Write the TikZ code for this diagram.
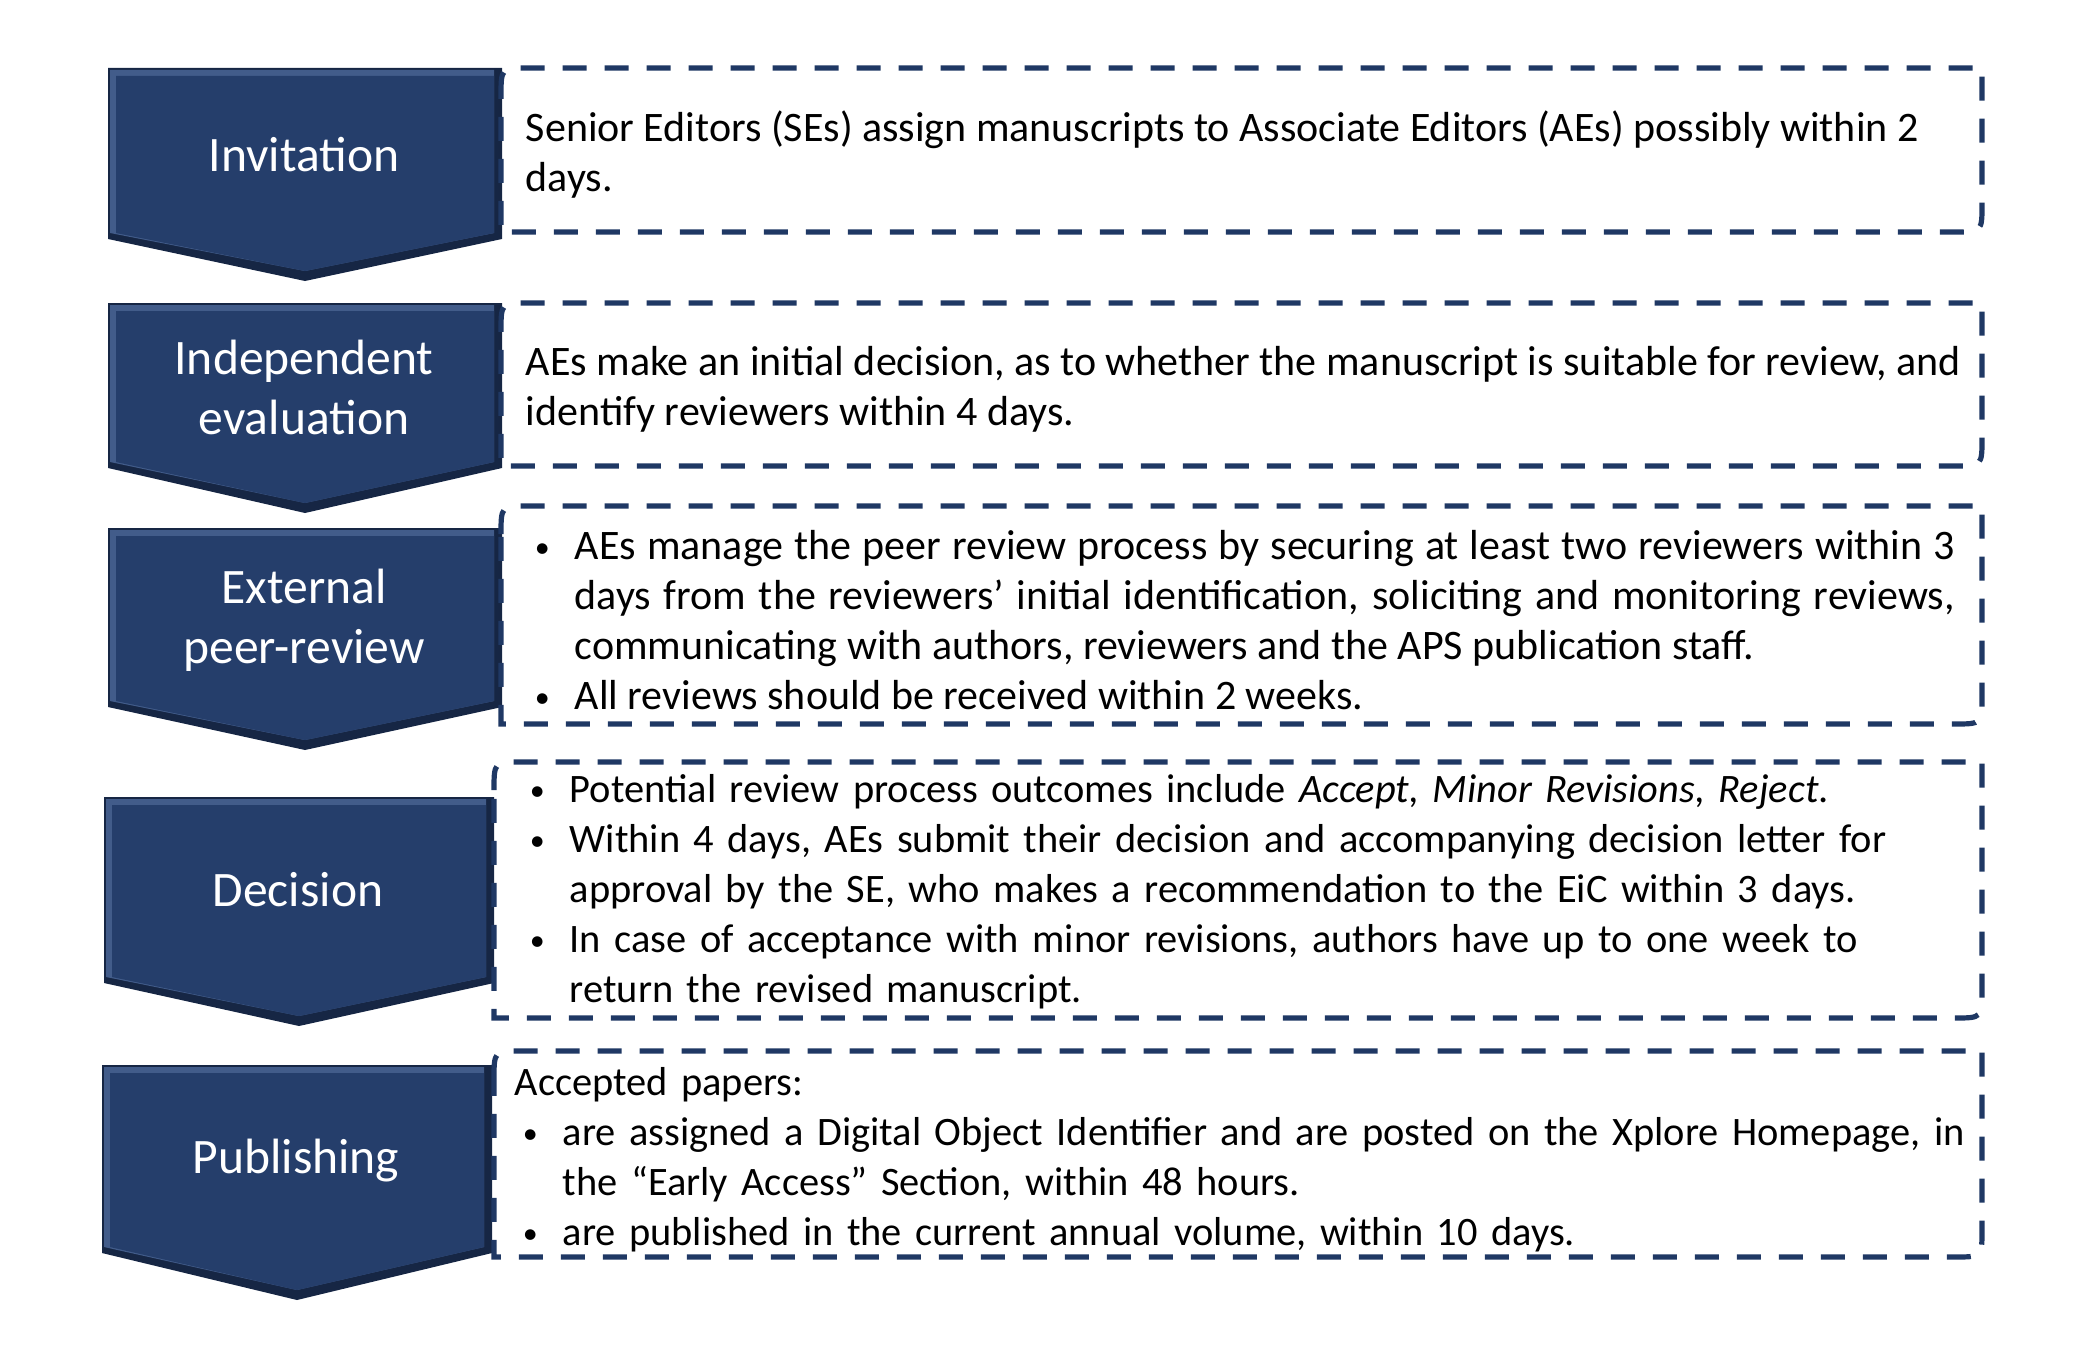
\documentclass[tikz,border=0pt]{standalone}
\usepackage{fontspec}
\setmainfont{Carlito}
\usetikzlibrary{positioning}
\definecolor{stepnavy}{RGB}{37,62,107}
\definecolor{stepdark}{RGB}{22,38,68}
\definecolor{steplight}{RGB}{66,92,138}
\definecolor{dashnavy}{RGB}{31,56,100}
\newcommand{\pitem}[1][0pt]{\par\noindent\hangindent=\dimexpr#1+10pt\relax\hangafter=1\hspace*{#1}%
  \makebox[10pt][l]{\raisebox{0.12ex}{\fontsize{7.5}{7.5}\selectfont •}}\ignorespaces}

\begin{document}
\begin{tikzpicture}[x=0.25pt,y=-0.25pt,
  steplabel/.style={text=white,font=\fontsize{12.4}{15}\selectfont,align=center,inner sep=0pt},
  bodytext/.style={font=\fontsize{10.5}{12.5}\selectfont,anchor=west,inner sep=0pt},
  smalltext/.style={bodytext,font=\fontsize{10.1}{12.5}\selectfont},
  dashbox/.style={draw=dashnavy,line width=1.3pt,dash pattern=on 6pt off 4.5pt}]
\useasboundingbox (0,0) rectangle (2083,1369);

% Chevrons (left, right, top, bottom, tip)
\foreach \l/\r/\t/\b/\p in {108/502/68/239/281, 108/502/303/468/513, 108/502/528/707/750,
    104/494/797/983/1026, 102/492/1065/1253/1300} {
  \pgfmathsetmacro\m{(\l+\r)/2}
  \fill[stepdark] (\l,\t) -- (\r,\t) -- (\r,\b) -- (\m,\p) -- (\l,\b) -- cycle;
  \fill[steplight] (\l+2,\t+2) -- (\r-8,\t+2) -- (\r-8,\b-6) -- (\m,\p-10) -- (\l+2,\b-6) -- cycle;
  \fill[stepnavy] (\l+8,\t+8) -- (\r-8,\t+8) -- (\r-8,\b-6) -- (\m,\p-10) -- (\l+8,\b-6) -- cycle;
}

% Dashed boxes (left, right, top, bottom)
\foreach \l/\r/\t/\b in {501/1982/68/232, 501/1982/303/466, 501/1982/506/724,
    494/1982/762/1018, 494/1982/1051/1257} {
  \draw[dashbox] (\l,\t+28) .. controls (\l,\t) .. (\l+28,\t) -- (\r,\t) -- (\r,\b-28)
    .. controls (\r,\b) .. (\r-28,\b) -- (\l,\b) -- cycle;
}

% Step names
\node[steplabel] (invitation) at (304,155) {Invitation};
\node[steplabel] (evaluation) at (304,387) {Independent\\evaluation};
\node[steplabel] (peerreview) at (304,620) {External\\peer-review};
\node[steplabel] (decision) at (298,890) {Decision};
\node[steplabel] (publishing) at (296,1161) {Publishing};

% Step descriptions
\node[bodytext,align=left] (invtext) at (525,155)
  {Senior Editors (SEs) assign manuscripts to Associate Editors (AEs) possibly within 2\\days.};
\node[bodytext,align=left] (evaltext) at (525,389)
  {AEs make an initial decision, as to whether the manuscript is suitable for review, and\\identify reviewers within 4 days.};
\node[bodytext,text width=355pt,align=justify] (reviewtext) at (534,610)
  {\pitem AEs manage the peer review process by securing at least two reviewers within 3\linebreak
   days from the reviewers’ initial identification, soliciting and monitoring reviews,\linebreak
   communicating with authors, reviewers and the APS publication staff.
   \pitem All reviews should be received within 2 weeks.\par};
\node[smalltext,text width=362pt,align=left] (decitext) at (529,881)
  {\pitem Potential review process outcomes include \textit{Accept, Minor Revisions, Reject}.
   \pitem Within 4 days, AEs submit their decision and accompanying decision letter for\newline
   approval by the SE, who makes a recommendation to the EiC within 3 days.
   \pitem In case of acceptance with minor revisions, authors have up to one week to\newline
   return the revised manuscript.\par};
\node[smalltext,text width=366pt,align=left] (pubtext) at (514,1160)
  {Accepted papers:
   \pitem[2pt] are assigned a Digital Object Identifier and are posted on the Xplore Homepage, in\newline
   the “Early Access” Section, within 48 hours.
   \pitem[2pt] are published in the current annual volume, within 10 days.\par};
\end{tikzpicture}
\end{document}
